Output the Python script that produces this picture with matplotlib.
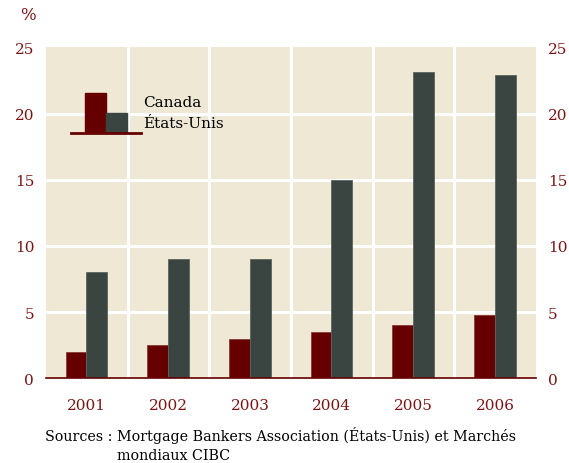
import matplotlib
matplotlib.use("Agg")
import matplotlib.pyplot as plt
from matplotlib.patches import Rectangle
from matplotlib.lines import Line2D
import numpy as np

years = ["2001", "2002", "2003", "2004", "2005", "2006"]
canada = [2.0, 2.5, 3.0, 3.5, 4.0, 4.8]
usa = [8.0, 9.0, 9.0, 15.0, 23.1, 22.9]
yticks = [0, 5, 10, 15, 20, 25]
series_names = ["Canada", "États-Unis"]
source_text = "Sources : Mortgage Bankers Association (États-Unis) et Marchés\n                mondiaux CIBC"

RED = "#660000"
GREY = "#3A4542"
BG = "#EEE8D5"
TXT = "#7A1515"

plt.rcParams['font.family'] = ['DejaVu Serif']

fig = plt.figure(figsize=(5.69, 4.64), dpi=100)
ax = fig.add_axes([46/569, 1-379.3/464, 490/569, 331/464])
ax.set_facecolor(BG)

x = np.arange(len(years))
w = 0.255
ax.bar(x - w/2 - 0.005, canada, w, color=RED, edgecolor="#8a3a3a", linewidth=0.6, zorder=3)
ax.bar(x + w/2 - 0.005, usa, w, color=GREY, edgecolor="#5a6562", linewidth=0.6, zorder=3)

ax.set_xlim(-0.5, len(years) - 0.5)
ax.set_ylim(0, 25)
for b in np.arange(0.5, len(years) - 0.5, 1):
    ax.axvline(b, color="white", lw=2.2, zorder=1)
for t in yticks[1:-1]:
    ax.axhline(t, color="white", lw=2.2, zorder=1)

for s in ["top", "left", "right"]:
    ax.spines[s].set_visible(False)
ax.spines["bottom"].set_color(RED)
ax.spines["bottom"].set_linewidth(1.2)
ax.spines["bottom"].set_zorder(4)

ax.set_yticks(yticks)
ax.set_yticklabels([str(t) for t in yticks])
ax.tick_params(axis="y", length=0, pad=8.5, labelsize=11, labelcolor=TXT,
               left=True, right=True, labelleft=True, labelright=True)
ax.set_xticks(x)
ax.set_xticklabels(years)
ax.tick_params(axis="x", length=0, pad=14, labelsize=11, labelcolor=TXT)

# legend (custom)
def fx(px):
    return px / 569
def fy(py):
    return 1 - py / 464
fig.patches.append(Rectangle((fx(85), fy(133)), fx(21), 39/464, color=RED, transform=fig.transFigure, zorder=5))
fig.patches.append(Rectangle((fx(106), fy(133)), fx(21), 19/464, color=GREY, transform=fig.transFigure, zorder=5))
fig.lines.append(Line2D([fx(71), fx(141)], [fy(133.5), fy(133.5)], color=RED, lw=2, transform=fig.transFigure, zorder=6))
fig.text(fx(143), fy(103), series_names[0], fontsize=11, color="black", va="center", ha="left")
fig.text(fx(143), fy(124), series_names[1], fontsize=11, color="black", va="center", ha="left")

fig.text(fx(20), fy(15), "%", fontsize=12, color=TXT, va="center", ha="left")
fig.text(fx(45), fy(445), source_text, fontsize=10.3, color="black", va="center", ha="left", linespacing=1.4)

fig.savefig("out.png", dpi=100)
